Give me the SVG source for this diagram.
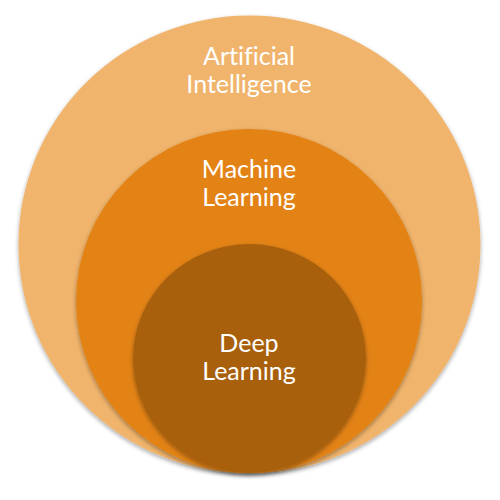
<svg xmlns="http://www.w3.org/2000/svg" width="500" height="500" viewBox="0 0 500 500">
<defs>
<filter id="sh" x="-10%" y="-10%" width="120%" height="125%">
<feDropShadow dx="0" dy="2" stdDeviation="2" flood-color="#000" flood-opacity="0.35"/>
</filter>
<style>
text{font-family:Lato,"Liberation Sans",sans-serif;font-size:25px;fill:#fff;text-anchor:middle;font-variant-ligatures:none}
ellipse{filter:url(#sh)}
</style>
</defs>
<rect width="500" height="500" fill="#fff"/>
<g id="ai">
<ellipse cx="249.5" cy="244.5" rx="231" ry="229" fill="#F0B46C"/>
<text x="249" y="65">Artificial</text>
<text x="249" y="93">Intelligence</text>
</g>
<g id="ml">
<ellipse cx="249" cy="301" rx="173" ry="172" fill="#E38314"/>
<text x="249" y="178">Machine</text>
<text x="249" y="206">Learning</text>
</g>
<g id="dl">
<ellipse cx="249.5" cy="358.5" rx="116.5" ry="114.5" fill="#A86110"/>
<text x="249" y="352">Deep</text>
<text x="249" y="380">Learning</text>
</g>
<g id="connectors"/>
</svg>
